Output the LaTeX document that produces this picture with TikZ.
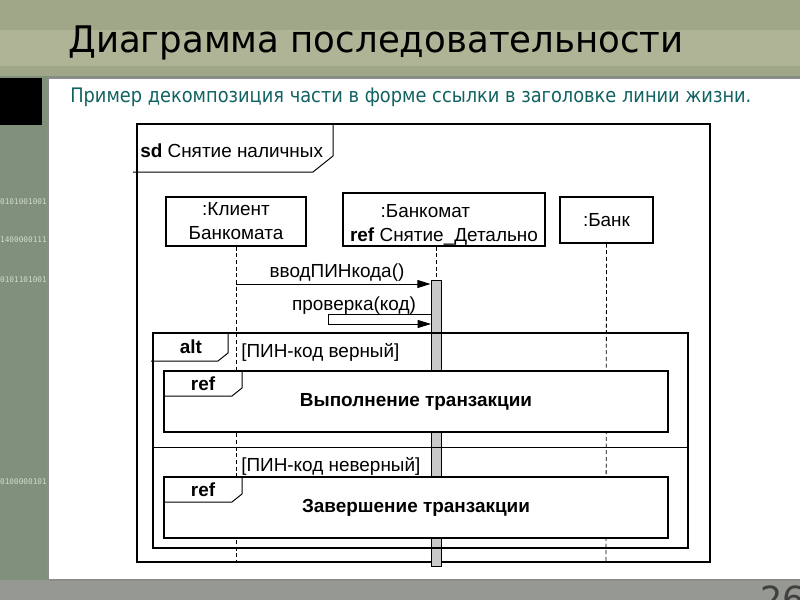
\documentclass[tikz,border=0pt]{standalone}
\usepackage{fontspec}
\setmainfont{Liberation Sans}
\newfontfamily\titlefont[FakeStretch=0.97]{DejaVu Sans}
\newfontfamily\subfont[FakeStretch=0.89]{DejaVu Sans}
\newfontfamily\binfont{DejaVu Sans Mono}
\usetikzlibrary{arrows.meta}
\definecolor{slidebg}{RGB}{128,144,122}
\definecolor{slidetop}{RGB}{160,166,136}
\definecolor{slideband}{RGB}{176,180,150}
\definecolor{slidebot}{RGB}{150,152,146}
\definecolor{subtitle}{RGB}{18,98,98}
\definecolor{bintext}{RGB}{210,220,205}
\definecolor{barfill}{RGB}{200,200,200}

\tikzset{
  head/.style={draw, fill=white, line width=0.8pt, align=center, inner sep=0pt,
    font=\fontsize{14.2}{18}\selectfont},
  lifeline/.style={dash pattern=on 3pt off 2pt, line width=0.6pt},
  msg/.style={-{Triangle[length=10pt,width=6pt]}, line width=0.75pt},
  reffrag/.style={draw, fill=white, line width=1.9pt, inner sep=0pt,
    minimum width=378pt, minimum height=45.75pt, font=\bfseries\fontsize{14.2}{16}\selectfont},
  fragtab/.style={line width=0.75pt},
  lbl/.style={inner sep=0pt, font=\fontsize{14.2}{16}\selectfont},
  boldlbl/.style={inner sep=0pt, font=\bfseries\fontsize{14.2}{16}\selectfont},
  bin/.style={anchor=base east, inner sep=0pt, text=bintext, font=\binfont\fontsize{5.8}{7}\selectfont}
}

\begin{document}
\begin{tikzpicture}[x=0.75pt,y=0.75pt,yscale=-1,xscale=1]
\useasboundingbox (0,0) rectangle (800,600);
\clip (0,0) rectangle (800,600);

%Shape: slide background
\fill[slidebg] (0,0) rectangle (800,600);
\fill[slidetop] (0,0) rectangle (800,76);
\fill[slideband] (0,30) rectangle (800,66);
\fill[slidebot] (0,580) rectangle (800,600);
\fill[black] (0,78) rectangle (42,125);

% Text Node
\node[bin] (bin1) at (47,204) {0101001001};
\node[bin] (bin2) at (47,242) {1400000111};
\node[bin] (bin3) at (47,282) {0101101001};
\node[bin] (bin4) at (47,484) {0100000101};

%Shape: white panel
\draw[fill=white, draw=black!45, line width=0.8pt] (48,78) rectangle (801,580);

% Text Node
\node[anchor=base west, inner sep=0pt, font=\titlefont\fontsize{27.5}{30}\selectfont] (title) at (68,52) {Диаграмма последовательности};
% Text Node
\node[anchor=base west, inner sep=0pt, text=subtitle, font=\subfont\fontsize{15}{17}\selectfont] (subtitle) at (70,102) {Пример декомпозиция части в форме ссылки в заголовке линии жизни.};
% Text Node
\node[anchor=north, inner sep=0pt, text=black!75, font=\titlefont\fontsize{27}{30}\selectfont] (pagenum) at (783,586) {26};

%Shape: sd frame
\draw[line width=0.9pt] (137,124) rectangle (710,562);
\draw[fragtab] (133,172) -- (313,172) -- (333,156) -- (333,124);
% Text Node
\node[lbl, anchor=base west] (sdlabel) at (140,157) {\textbf{sd} Снятие наличных};

% Lifeline heads
\node[head, minimum width=105pt, minimum height=36.75pt] (client) at (236,221.5) {:Клиент\\Банкомата};
\node[head, minimum width=151.5pt, minimum height=39.75pt] (atm) at (444,219.5) {};
\node[lbl, align=center, font=\fontsize{14.2}{18}\selectfont] (atmtext) at (444,225) {:Банкомат\hspace*{28pt}\\\textbf{ref} Снятие\_Детально};
\node[head, minimum width=69.75pt, minimum height=34.5pt] (bank) at (606.5,220) {:Банк};

% Activation bar
\node[draw, fill=barfill, line width=0.6pt, minimum width=7.5pt, minimum height=214.5pt, inner sep=0pt] (atmbar) at (436,423) {};

% Lifelines
\coordinate (clientend) at (236,562);
\coordinate (bankend) at (606,562);
\draw[lifeline] (client.south) -- (clientend);
\draw[lifeline] (bank.south) -- (bankend);
\draw[lifeline] (atm.south -| atmbar.north) -- (atmbar.north);

% Messages
\coordinate (pinfrom) at (236,284);
\draw[msg] (pinfrom) -- (atmbar.west |- pinfrom);
\node[lbl, anchor=base] (pinlabel) at (337,277) {вводПИНкода()};
\coordinate (chkout) at (431,314);
\coordinate (chkin) at (431,324);
\draw[msg] (chkout) -- (328,314) -- (328,324) -- (chkin);
\node[lbl, anchor=base] (chklabel) at (354,310) {проверка(код)};

%Shape: alt fragment
\draw[line width=1.9pt] (153,333) rectangle (688,548);
\draw[fragtab] (151,361) -- (218,361) -- (228,353) -- (228,333);
\draw[line width=0.75pt] (153,447) -- (688,447);
% Text Node
\node[boldlbl, anchor=base] (altlabel) at (191,353) {alt};
\node[lbl, anchor=base west] (guardok) at (241,357) {[ПИН-код верный]};
\node[lbl, anchor=base west] (guardbad) at (241,471) {[ПИН-код неверный]};

% Ref fragments
\node[reffrag] (refdo) at (416,401.5) {Выполнение транзакции};
\draw[fragtab] (164,396) -- (232,396) -- (242,388) -- (242,371);
\node[boldlbl, anchor=base] (reflabela) at (203,390) {ref};
\node[reffrag] (refend) at (416,507.5) {Завершение транзакции};
\draw[fragtab] (164,502) -- (232,502) -- (242,494) -- (242,477);
\node[boldlbl, anchor=base] (reflabelb) at (203,496) {ref};

\end{tikzpicture}
\end{document}
